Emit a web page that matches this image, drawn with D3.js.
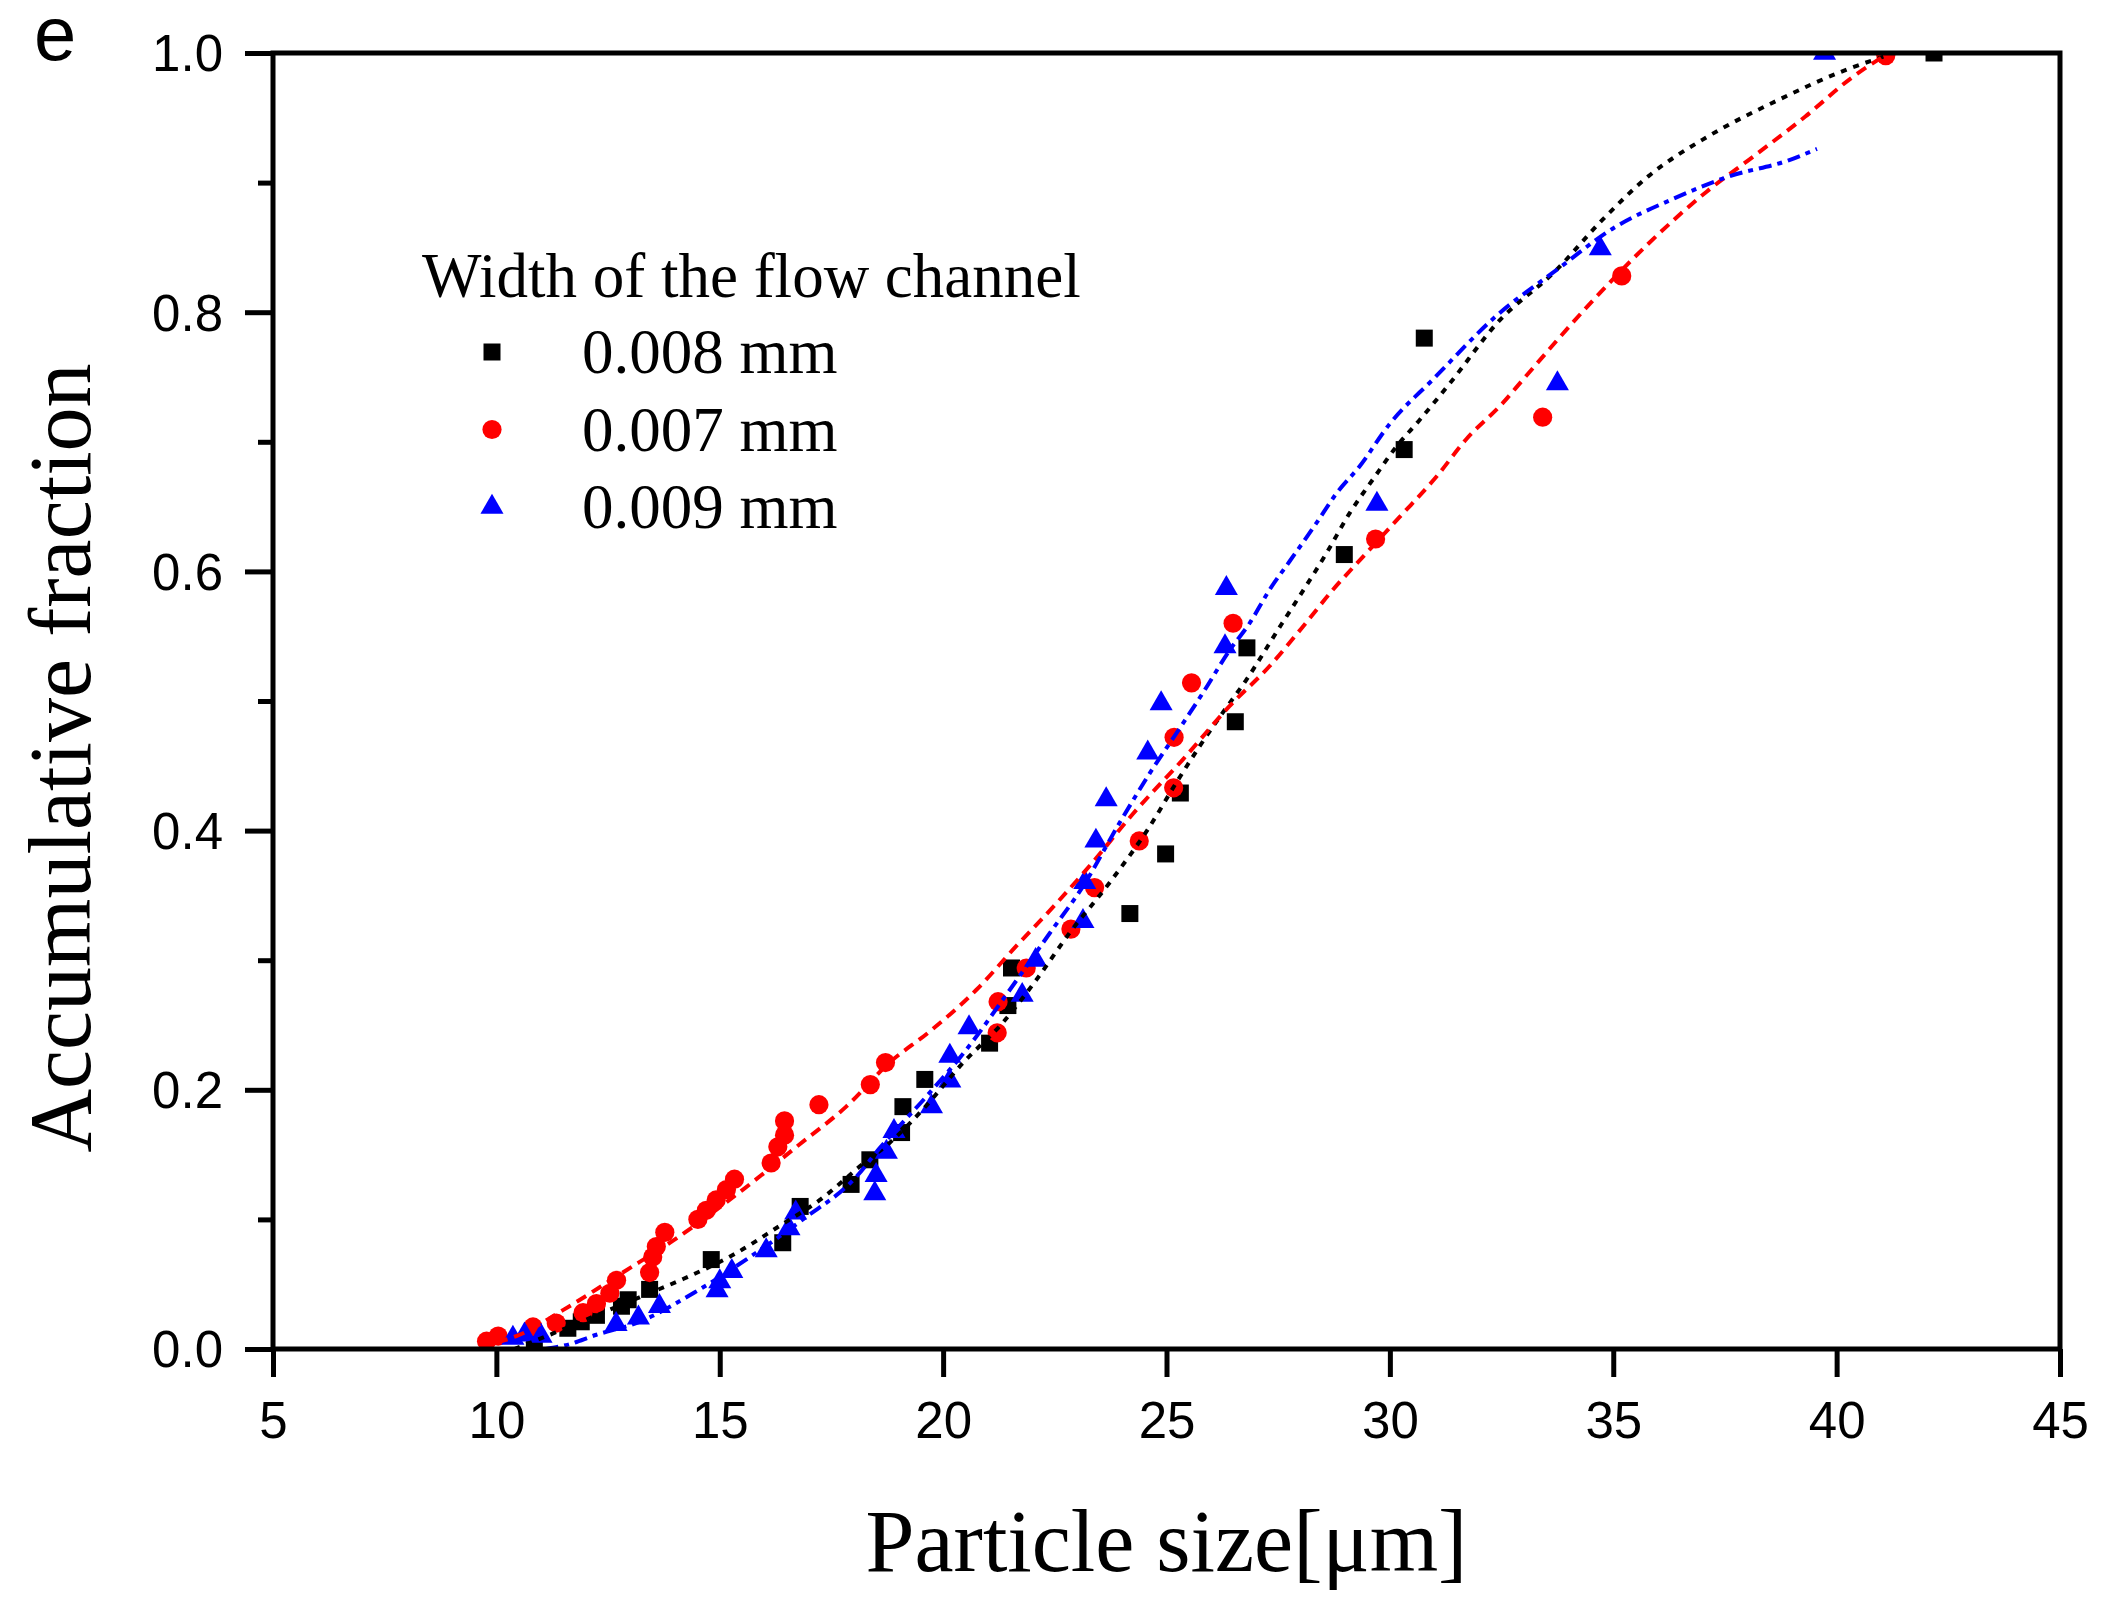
<!DOCTYPE html>
<head>
<meta charset="utf-8">
<style type="text/css">
body { margin: 0; background: white; }
svg { display: block; }
.tick text { font-family: "Liberation Sans", Arial, sans-serif; }
</style>
</head>
<body>
<script src="https://cdnjs.cloudflare.com/ajax/libs/d3/7.8.5/d3.min.js"></script>
<script type="text/javascript">
  // series names, as shown in the legend
  var seriesNames = ['0.008 mm', '0.007 mm', '0.009 mm'];
  var legendTitle = 'Width of the flow channel';

  // measured points [particle size, accumulative fraction]
  var pts008 = [[10.85,0.005],[11.6,0.016],[11.9,0.021],[12.24,0.026],[12.8,0.033],[12.95,0.038],[13.43,0.046],
    [14.81,0.069],[16.41,0.082],[16.8,0.110],[17.94,0.127],[18.36,0.146],[19.07,0.167],[19.1,0.187],[19.59,0.208],
    [21.04,0.236],[21.45,0.265],[21.53,0.294],[24.18,0.336],[24.98,0.382],[25.31,0.429],[26.54,0.484],[26.8,0.541],
    [28.98,0.613],[30.32,0.694],[30.77,0.780],[42.18,1.0]];
  var pts007 = [[9.78,0.006],[10.04,0.010],[10.82,0.017],[11.34,0.020],[11.94,0.028],[12.24,0.035],[12.54,0.043],
    [12.69,0.053],[13.43,0.059],[13.5,0.071],[13.58,0.079],[13.77,0.090],[14.51,0.100],[14.7,0.107],[14.92,0.115],
    [15.15,0.123],[15.33,0.131],[16.15,0.1435],[16.30,0.156],[16.45,0.165],[16.45,0.176],[17.22,0.1885],[18.37,0.204],
    [18.71,0.221],[21.21,0.244],[21.23,0.268],[21.86,0.294],[22.86,0.324],[23.39,0.356],[24.39,0.392],[25.16,0.433],
    [25.17,0.472],[25.56,0.514],[26.49,0.560],[29.68,0.625],[33.42,0.719],[35.19,0.828],[41.1,0.998]];
  var pts009 = [[10.37,0.0085],[10.63,0.011],[11.0,0.010],[12.68,0.019],[13.18,0.024],[13.65,0.033],[14.94,0.045],
    [15.0,0.052],[15.27,0.060],[16.04,0.076],[16.55,0.093],[16.7,0.105],[18.47,0.120],[18.5,0.134],[18.73,0.152],
    [18.9,0.168],[19.74,0.187],[20.15,0.207],[20.15,0.226],[20.58,0.248],[21.77,0.273],[22.07,0.300],[23.13,0.330],
    [23.17,0.360],[23.42,0.392],[23.65,0.424],[24.58,0.460],[24.88,0.498],[26.31,0.542],[26.34,0.587],[29.71,0.652],
    [33.75,0.745],[34.71,0.849],[39.73,1.0]];

  // fitted curves
  var fit008 = [[10.4,0.0],[11.27,0.012],[12.24,0.026],[13.28,0.041],[14.18,0.054],[15.37,0.074],[16.34,0.095],
    [17.24,0.115],[18.21,0.143],[18.8,0.159],[19.55,0.185],[20.45,0.221],[21.34,0.252],[22.09,0.285],[22.83,0.321],
    [23.73,0.360],[24.62,0.403],[25.22,0.437],[25.74,0.465],[26.26,0.491],[26.78,0.516],[27.57,0.559],[27.98,0.581],
    [28.58,0.614],[29.1,0.645],[29.62,0.671],[30.14,0.696],[30.67,0.717],[31.34,0.745],[32.41,0.792],[33.71,0.832],
    [34.75,0.871],[35.79,0.905],[37.09,0.935],[38.65,0.963],[40.21,0.987],[41.12,0.998]];
  var fit007 = [[9.62,0.002],[10.52,0.011],[11.49,0.030],[12.83,0.059],[14.1,0.087],[15.52,0.123],[16.79,0.158],
    [17.83,0.187],[18.8,0.221],[19.7,0.245],[20.74,0.277],[21.64,0.311],[22.54,0.344],[23.31,0.374],[24.25,0.413],
    [25.37,0.455],[26.41,0.496],[27.31,0.527],[28.02,0.556],[28.73,0.586],[29.47,0.614],[30.22,0.642],[31.04,0.673],
    [31.71,0.702],[32.53,0.730],[32.98,0.748],[34.49,0.807],[35.79,0.853],[37.09,0.893],[38.13,0.920],[39.3,0.951],
    [40.34,0.981],[41.12,0.999]];
  var fit009 = [[11.1,0.0],[11.56,0.003],[12.24,0.011],[13.13,0.020],[14.55,0.046],[15.59,0.069],[16.86,0.100],
    [18.06,0.133],[18.58,0.155],[19.63,0.195],[20.52,0.231],[21.49,0.277],[22.39,0.321],[23.13,0.357],[23.95,0.406],
    [24.62,0.444],[25.22,0.475],[25.81,0.506],[26.41,0.539],[26.86,0.560],[27.31,0.586],[27.76,0.608],[28.35,0.637],
    [28.8,0.660],[29.32,0.681],[30.0,0.714],[30.96,0.748],[32.41,0.798],[33.71,0.832],[35.01,0.865],[36.31,0.887],
    [37.61,0.905],[38.91,0.917],[39.56,0.926]];

  // tick labels
  var xTicks = [5, 10, 15, 20, 25, 30, 35, 40, 45];
  var yTicks = [0, 0.2, 0.4, 0.6, 0.8, 1.0];
  var yMinor = [0.1, 0.3, 0.5, 0.7, 0.9];

  var W = 2109, H = 1599;
  var pL = 273, pR = 2060, pT = 53, pB = 1349;

  var svg = d3.select('body').append('svg')
          .attr('width', W)
          .attr('height', H);
  svg.append('rect').attr('width', W).attr('height', H).attr('fill', 'white');

  var x = d3.scaleLinear().domain([5, 45]).range([pL, pR]);
  var y = d3.scaleLinear().domain([0, 1]).range([pB, pT]);

  svg.append('clipPath').attr('id', 'plot')
     .append('rect')
     .attr('x', pL).attr('y', pT)
     .attr('width', pR - pL).attr('height', pB - pT);

  var series = [
    {pts: pts008, fit: fit008, color: '#000000', shape: 'square', dash: '6,7'},
    {pts: pts007, fit: fit007, color: '#ff0000', shape: 'circle', dash: '11,7'},
    {pts: pts009, fit: fit009, color: '#0000ff', shape: 'triangle', dash: '13,6,5,6'}
  ];

  var symbols = {
    square: d3.symbol().type(d3.symbolSquare).size(17 * 17),
    circle: d3.symbol().type(d3.symbolCircle).size(Math.PI * 9.6 * 9.6),
    triangle: d3.symbol().type(d3.symbolTriangle).size(230)
  };

  var plot = svg.append('g').attr('clip-path', 'url(#plot)');

  // markers first, fitted lines drawn over them
  series.forEach(function(s){
    plot.append('g').selectAll('path')
        .data(s.pts)
        .enter()
        .append('path')
        .attr('d', symbols[s.shape])
        .attr('transform', function(d){ return 'translate(' + x(d[0]) + ',' + y(d[1]) + ')'; })
        .attr('fill', s.color);
  });

  var line = d3.line()
          .x(function(d){ return x(d[0]); })
          .y(function(d){ return y(d[1]); })
          .curve(d3.curveMonotoneX);

  series.forEach(function(s){
    plot.append('path')
        .datum(s.fit)
        .attr('d', line)
        .attr('fill', 'none')
        .attr('stroke', s.color)
        .attr('stroke-width', 4)
        .attr('stroke-dasharray', s.dash);
  });

  // x axis
  var xAxis = svg.append('g')
          .attr('transform', 'translate(0,' + pB + ')')
          .call(d3.axisBottom(x).tickValues(xTicks).tickSize(28).tickFormat(d3.format('d')));
  xAxis.select('.domain').remove();
  xAxis.selectAll('.tick line').attr('stroke', 'black').attr('stroke-width', 5);
  xAxis.selectAll('.tick text')
       .attr('y', 89).attr('dy', 0)
       .attr('font-size', 51).attr('fill', 'black');

  // y axis
  var yAxis = svg.append('g')
          .attr('transform', 'translate(' + pL + ',0)')
          .call(d3.axisLeft(y).tickValues(yTicks).tickSize(28).tickPadding(22).tickFormat(d3.format('.1f')));
  yAxis.select('.domain').remove();
  yAxis.selectAll('.tick line').attr('stroke', 'black').attr('stroke-width', 5);
  yAxis.selectAll('.tick text')
       .attr('font-size', 51).attr('fill', 'black').attr('dy', '0.35em');

  var yMinorAxis = svg.append('g')
          .attr('transform', 'translate(' + pL + ',0)')
          .call(d3.axisLeft(y).tickValues(yMinor).tickSize(15).tickFormat(''));
  yMinorAxis.select('.domain').remove();
  yMinorAxis.selectAll('.tick line').attr('stroke', 'black').attr('stroke-width', 5);

  // frame
  svg.append('rect')
     .attr('x', pL).attr('y', pT)
     .attr('width', pR - pL).attr('height', pB - pT)
     .attr('fill', 'none')
     .attr('stroke', 'black')
     .attr('stroke-width', 5);

  // axis titles
  svg.append('text')
     .attr('x', (pL + pR) / 2).attr('y', 1571)
     .attr('text-anchor', 'middle')
     .attr('font-family', '"Liberation Serif", "Times New Roman", serif')
     .attr('font-size', 88)
     .text('Particle size[\u03bcm]');

  svg.append('text')
     .attr('transform', 'translate(90,758) rotate(-90)')
     .attr('text-anchor', 'middle')
     .attr('font-family', '"Liberation Serif", "Times New Roman", serif')
     .attr('font-size', 88)
     .text('Accumulative fraction');

  // panel letter
  svg.append('text')
     .attr('x', 34).attr('y', 60)
     .attr('font-family', '"Liberation Sans", Arial, sans-serif')
     .attr('font-size', 76)
     .text('e');

  // legend
  var legend = svg.append('g')
          .attr('font-family', '"Liberation Serif", "Times New Roman", serif')
          .attr('font-size', 63);
  legend.append('text').attr('x', 422).attr('y', 297).text(legendTitle);

  var rows = legend.selectAll('.row')
          .data(series)
          .enter()
          .append('g')
          .attr('class', 'row')
          .attr('transform', function(d, i){ return 'translate(0,' + (352 + i * 77.5) + ')'; });
  rows.append('path')
      .attr('d', function(d){ return symbols[d.shape](); })
      .attr('transform', 'translate(492,0)')
      .attr('fill', function(d){ return d.color; });
  rows.append('text')
      .attr('x', 582).attr('y', 21)
      .text(function(d, i){ return seriesNames[i]; });
</script>
</body>
